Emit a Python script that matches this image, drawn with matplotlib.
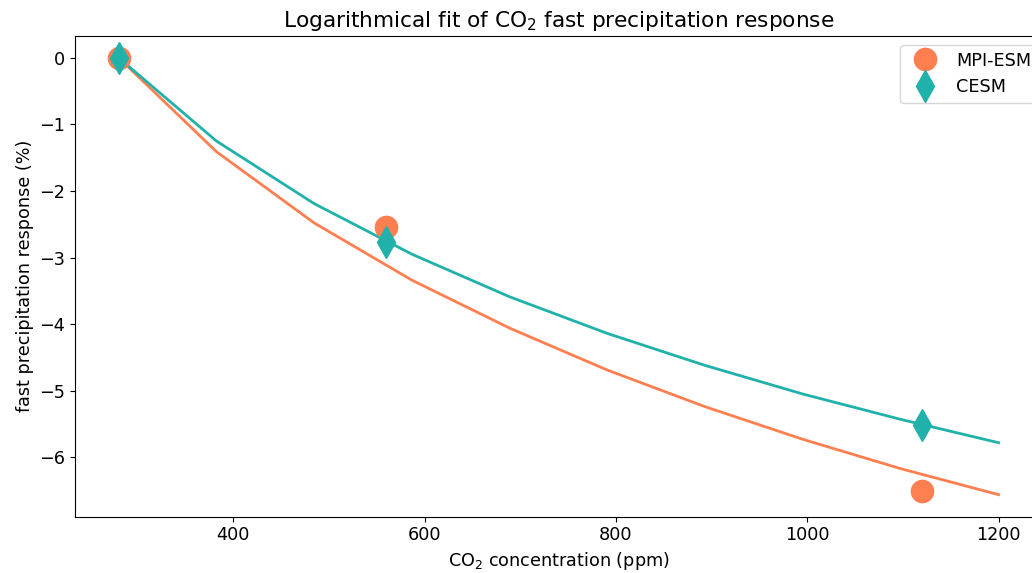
import matplotlib
matplotlib.use("Agg")
import matplotlib.pyplot as plt

# measured model responses
co2_points = [280, 560, 1120]
mpi_points = [0.0, -2.54, -6.51]
cesm_points = [0.0, -2.76, -5.51]

# logarithmic fit curves, read at the line vertices
fit_x = [280, 382.2, 484.4, 586.7, 688.9, 791.1, 893.3, 995.6, 1097.8, 1200]
mpi_fit = [0.0, -1.41, -2.48, -3.34, -4.06, -4.69, -5.24, -5.73, -6.17, -6.56]
cesm_fit = [0.0, -1.25, -2.19, -2.95, -3.59, -4.14, -4.62, -5.05, -5.43, -5.78]

orange = "coral"
teal = "lightseagreen"

plt.rcParams['font.size'] = 12.7

fig = plt.figure(figsize=(10.32, 5.73), dpi=100)
# the right edge of the axes runs a little past the figure, as in the original crop
ax = fig.add_axes([0.0727, 0.0983, 0.9376, 0.8394])

ax.plot(fit_x, mpi_fit, color=orange, linewidth=2)
ax.plot(fit_x, cesm_fit, color=teal, linewidth=2)
ax.plot(co2_points, mpi_points, linestyle='none', marker='o', markersize=16, color=orange, label='MPI-ESM')
ax.plot(co2_points, cesm_points, linestyle='none', marker='d', markersize=16, color=teal, label='CESM')

ax.set_xlim(234.5, 1246)
ax.set_ylim(-6.89, 0.33)
ax.set_xticks([400, 600, 800, 1000, 1200])
ax.set_xlabel('CO$_2$ concentration (ppm)')
ax.set_ylabel('fast precipitation response (%)')
ax.set_title('Logarithmical fit of CO$_2$ fast precipitation response', fontsize=15.6)
ax.legend(loc='upper right', numpoints=1, bbox_to_anchor=(1.005, 1.0))

fig.savefig('out.png', dpi=100)
